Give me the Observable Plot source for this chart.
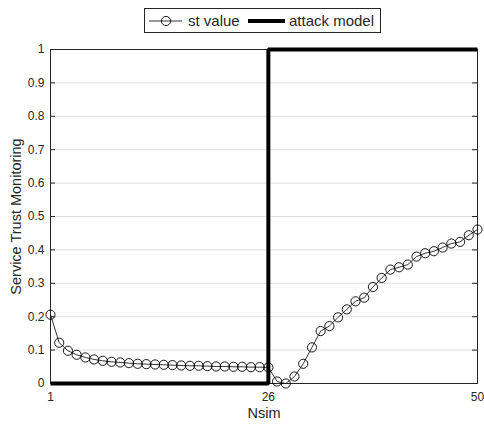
<!DOCTYPE html>
<html>
<head>
<meta charset="utf-8">
<script src="https://cdn.jsdelivr.net/npm/d3@7"></script>
<script src="https://cdn.jsdelivr.net/npm/@observablehq/plot@0.6"></script>
<style>
  html, body { margin: 0; padding: 0; background: #fff; }
  #wrap { position: relative; width: 484px; height: 428px; font-family: "Liberation Sans", Arial, Helvetica, sans-serif; }
  #legend { position: absolute; left: 144px; top: 8px; width: 235px; height: 23px; border: 1px solid #262626; background: #fff; }
  #legend svg { display: block; }
</style>
</head>
<body>
<div id="wrap"></div>
<script>
// Simulation index
const nsim = d3.range(1, 51);

// Service trust value per simulation step
const stValue = [
  0.206, 0.122, 0.098, 0.086, 0.078, 0.072, 0.068, 0.065, 0.063, 0.061,
  0.059, 0.058, 0.057, 0.056, 0.055, 0.054, 0.053, 0.053, 0.052, 0.051,
  0.051, 0.050, 0.050, 0.049, 0.049, 0.048, 0.006, 0.000, 0.021, 0.059,
  0.108, 0.157, 0.172, 0.198, 0.222, 0.246, 0.257, 0.289, 0.316, 0.341,
  0.348, 0.356, 0.380, 0.390, 0.396, 0.407, 0.419, 0.424, 0.444, 0.461
];

// Attack model: off until step 26, on afterwards
const attackModel = [
  0, 0, 0, 0, 0, 0, 0, 0, 0, 0,
  0, 0, 0, 0, 0, 0, 0, 0, 0, 0,
  0, 0, 0, 0, 0, 0, 1, 1, 1, 1,
  1, 1, 1, 1, 1, 1, 1, 1, 1, 1,
  1, 1, 1, 1, 1, 1, 1, 1, 1, 1
];

const xTicks = [1, 26, 50];
const yTicks = [0, 0.1, 0.2, 0.3, 0.4, 0.5, 0.6, 0.7, 0.8, 0.9, 1];

const seriesNames = ["st value", "attack model"];
const xLabel = "Nsim";
const yLabel = "Service Trust Monitoring";

const rows = nsim.map((n, i) => ({n, st: stValue[i], attack: attackModel[i]}));

const W = 484, H = 428;
const mL = 50, mR = 7, mT = 49, mB = 45;
const innerW = W - mL - mR, innerH = H - mT - mB;
const tickLen = 5;
const ink = "#262626";
const font = "'Liberation Sans', Arial, Helvetica, sans-serif";

const chart = Plot.plot({
  width: W,
  height: H,
  marginLeft: mL,
  marginRight: mR,
  marginTop: mT,
  marginBottom: mB,
  style: {fontFamily: font, color: ink, background: "#fff", overflow: "visible"},
  x: {domain: [1, 50]},
  y: {domain: [0, 1]},
  marks: [
    Plot.gridY(yTicks, {stroke: ink, strokeOpacity: 0.15, strokeWidth: 1}),
    Plot.frame({stroke: ink, strokeWidth: 1}),
    // inward tick marks on all four sides
    Plot.tickY(yTicks, {y: d => d, stroke: ink, insetRight: innerW - tickLen}),
    Plot.tickY(yTicks, {y: d => d, stroke: ink, insetLeft: innerW - tickLen}),
    Plot.tickX(xTicks, {x: d => d, stroke: ink, insetTop: innerH - tickLen}),
    Plot.tickX(xTicks, {x: d => d, stroke: ink, insetBottom: innerH - tickLen}),
    Plot.axisX(xTicks, {tickSize: 0, tickPadding: 9, fontSize: 12, label: null, fill: ink}),
    Plot.axisY(yTicks, {tickSize: 0, tickPadding: 6, fontSize: 12, label: null, fill: ink,
      tickFormat: d => String(+d.toFixed(1))}),
    Plot.text([xLabel], {frameAnchor: "bottom", dy: 30, text: d => d, fontSize: 14.5, fill: ink, lineAnchor: "middle", textAnchor: "middle"}),
    Plot.text([yLabel], {frameAnchor: "left", dx: -34, rotate: -90, text: d => d, fontSize: 14.5, fill: ink, lineAnchor: "middle", textAnchor: "middle"}),
    // st value series: thin line with hollow circle markers
    Plot.line(rows, {x: "n", y: "st", stroke: "#000", strokeWidth: 0.8}),
    Plot.dot(rows, {x: "n", y: "st", r: 4.6, stroke: "#000", strokeWidth: 0.9, fill: "none"}),
    // attack model: thick step line
    Plot.line(rows, {x: "n", y: "attack", curve: "step-before", stroke: "#000", strokeWidth: 4, strokeLinejoin: "miter", strokeLinecap: "butt"})
  ]
});

const wrap = document.getElementById("wrap");
wrap.appendChild(chart);

// Legend box above the axes
const legend = document.createElement("div");
legend.id = "legend";
wrap.appendChild(legend);
const lg = d3.select(legend).append("svg").attr("width", 235).attr("height", 23);
lg.append("line").attr("x1", 4).attr("x2", 37).attr("y1", 12).attr("y2", 12).attr("stroke", "#000").attr("stroke-width", 0.8);
lg.append("circle").attr("cx", 21).attr("cy", 12).attr("r", 4.6).attr("fill", "none").attr("stroke", "#000").attr("stroke-width", 0.9);
lg.append("text").attr("x", 43).attr("y", 12).attr("dy", "0.35em").attr("font-size", 15).attr("fill", ink).attr("font-family", font).text(seriesNames[0]);
lg.append("line").attr("x1", 103).attr("x2", 140).attr("y1", 12).attr("y2", 12).attr("stroke", "#000").attr("stroke-width", 4);
lg.append("text").attr("x", 144).attr("y", 12).attr("dy", "0.35em").attr("font-size", 15).attr("fill", ink).attr("font-family", font).text(seriesNames[1]);
</script>
</body>
</html>
